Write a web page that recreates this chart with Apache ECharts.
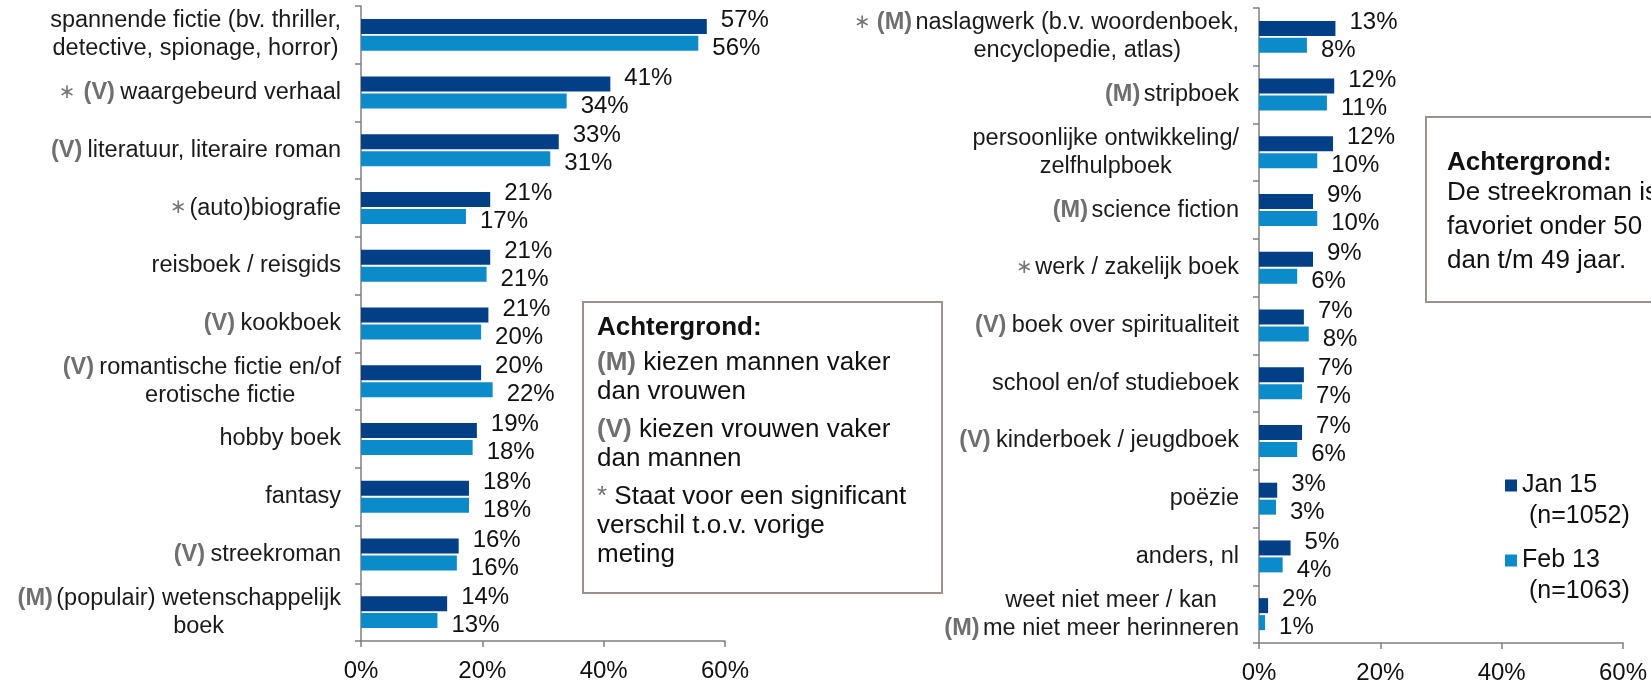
<!DOCTYPE html>
<html>
<head>
<meta charset="utf-8">
<script src="https://cdn.jsdelivr.net/npm/echarts@6/dist/echarts.min.js"></script>
<style>
  html, body { margin: 0; padding: 0; background: #fff; }
  #chart { width: 1651px; height: 685px; }
</style>
</head>
<body>
<div id="chart"></div>
<script>
// linker grafiek
var leftCats = [
  'spannende fictie (bv. thriller,\ndetective, spionage, horror)',
  'waargebeurd verhaal',
  'literatuur, literaire roman',
  '(auto)biografie',
  'reisboek / reisgids',
  'kookboek',
  'romantische fictie en/of\nerotische fictie',
  'hobby boek',
  'fantasy',
  'streekroman',
  '(populair) wetenschappelijk\nboek'
]
var leftSig = [0, 1, 0, 1, 0, 0, 0, 0, 0, 0, 0]
var leftGender = ['', 'V', 'V', '', '', 'V', 'V', '', '', 'V', 'M']
var leftJan = [57.0, 41.1, 32.6, 21.3, 21.3, 21.0, 19.8, 19.1, 17.8, 16.1, 14.2]
var leftFeb = [55.6, 33.9, 31.2, 17.3, 20.7, 19.8, 21.7, 18.4, 17.8, 15.8, 12.6]

// rechter grafiek
var rightCats = [
  'naslagwerk (b.v. woordenboek,\nencyclopedie, atlas)',
  'stripboek',
  'persoonlijke ontwikkeling/\nzelfhulpboek',
  'science fiction',
  'werk / zakelijk boek',
  'boek over spiritualiteit',
  'school en/of studieboek',
  'kinderboek / jeugdboek',
  'poëzie',
  'anders, nl',
  'weet niet meer / kan\nme niet meer herinneren'
]
var rightSig = [1, 0, 0, 0, 1, 0, 0, 0, 0, 0, 0]
var rightGender = ['M', 'M', '', 'M', '', 'V', '', 'V', '', '', 'M']
var rightJan = [12.6, 12.4, 12.2, 8.9, 8.9, 7.4, 7.4, 7.1, 3.0, 5.2, 1.5]
var rightFeb = [7.9, 11.2, 9.6, 9.6, 6.3, 8.2, 7.1, 6.3, 2.8, 3.9, 1.0]

var seriesNames = ['Jan 15', 'Feb 13']
var sampleSizes = ['(n=1052)', '(n=1063)']
var xTicks = [0, 20, 40, 60]

var DARK = '#023f86'
var LIGHT = '#0b8bc9'
var GREY = '#6f6f6f'
var FONT = '"Liberation Sans", Arial, sans-serif'

function buildLabel(name, idx, sig, gender) {
  var lines = name.split('\n')
  var markIdx = 0
  lines.forEach(function (l, i) {
    if (l.length > lines[markIdx].length) markIdx = i
  })
  return lines.map(function (l, i) {
    var pre = ''
    if (i === markIdx) {
      if (sig[idx]) pre += '{s|\u2217}'
      if (gender[idx]) pre += '{g|(' + gender[idx] + ')}'
    } else {
      if (sig[idx]) pre += '{ss| }'
      if (gender[idx]) pre += '{gs| }'
    }
    return pre + '{t|' + l + '}'
  }).join('\n')
}

var catRich = {
  t: { fontSize: 23.5, color: '#1a1a1a', lineHeight: 28, align: 'center', fontFamily: FONT },
  g: { fontSize: 23.5, fontWeight: 'bold', color: GREY, width: 42, align: 'center', lineHeight: 28, fontFamily: FONT },
  s: { fontSize: 20, color: '#777', width: 22, align: 'center', lineHeight: 28, fontFamily: 'DejaVu Sans' },
  gs: { width: 42, align: 'left', lineHeight: 28 },
  ss: { width: 22, align: 'left', lineHeight: 28 }
}

function catAxis(gridIndex, cats, sig, gender) {
  return {
    type: 'category',
    gridIndex: gridIndex,
    inverse: true,
    data: cats,
    axisLine: { lineStyle: { color: '#7f7f7f', width: 1.5 } },
    axisTick: { show: true, length: 6, lineStyle: { color: '#7f7f7f', width: 1.5 } },
    axisLabel: {
      interval: 0,
      margin: 20,
      formatter: function (value, index) {
        return buildLabel(value, index, sig, gender)
      },
      rich: catRich
    }
  }
}

function valAxis(gridIndex) {
  return {
    type: 'value',
    gridIndex: gridIndex,
    min: xTicks[0],
    max: xTicks[xTicks.length - 1],
    interval: xTicks[1] - xTicks[0],
    splitLine: { show: false },
    axisLine: { show: true, lineStyle: { color: '#7f7f7f', width: 1.5 } },
    axisTick: { show: true, length: 6, lineStyle: { color: '#7f7f7f', width: 1.5 } },
    axisLabel: {
      formatter: '{value}%',
      fontSize: 24,
      color: '#111',
      margin: 18,
      fontFamily: FONT
    }
  }
}

function barSeries(name, data, idx, color, dy) {
  return {
    name: name,
    type: 'bar',
    xAxisIndex: idx,
    yAxisIndex: idx,
    data: data,
    barWidth: 15,
    barGap: '13%',
    itemStyle: { color: color },
    label: {
      show: true,
      position: 'right',
      distance: 14,
      offset: [0, dy],
      fontSize: 24,
      color: '#111',
      fontFamily: FONT,
      formatter: function (p) {
        return Math.round(p.value) + '%'
      }
    }
  }
}

function legendFor(i, top) {
  return {
    data: [seriesNames[i]],
    orient: 'vertical',
    left: 1500,
    top: top,
    icon: 'rect',
    itemWidth: 12,
    itemHeight: 12,
    selectedMode: false,
    formatter: function (name) {
      return '{e| }\n{a|' + name + '}\n{b|' + sampleSizes[i] + '}'
    },
    textStyle: {
      fontFamily: FONT,
      rich: {
        e: { fontSize: 25, lineHeight: 31 },
        a: { fontSize: 25, lineHeight: 31, color: '#111', fontFamily: FONT },
        b: { fontSize: 25, lineHeight: 31, color: '#111', padding: [0, 0, 0, 7], fontFamily: FONT }
      }
    }
  }
}

// graphic text gebruikt zrender-stijl: fill i.p.v. color
var noteRich = {
  h: { fontSize: 26, fontWeight: 'bold', fill: '#111', fontFamily: FONT },
  g: { fontSize: 26, fontWeight: 'bold', fill: GREY, fontFamily: FONT, lineHeight: 29 },
  a: { fontSize: 26, fill: GREY, fontFamily: FONT, lineHeight: 29 },
  n: { fontSize: 26, fill: '#111', fontFamily: FONT, lineHeight: 29 },
  r: { fontSize: 26, fill: '#111', fontFamily: FONT, lineHeight: 34 }
}

function noteText(x, y, text) {
  return {
    type: 'text',
    x: x,
    y: y,
    z: 101,
    style: { text: text, rich: noteRich, verticalAlign: 'middle', align: 'left' }
  }
}

var chart = echarts.init(document.getElementById('chart'))
chart.setOption({
  animation: false,
  textStyle: { fontFamily: FONT },
  grid: [
    { left: 361, top: 6, width: 364, height: 635 },
    { left: 1259, top: 8, width: 364, height: 635 }
  ],
  xAxis: [valAxis(0), valAxis(1)],
  yAxis: [catAxis(0, leftCats, leftSig, leftGender), catAxis(1, rightCats, rightSig, rightGender)],
  legend: [legendFor(0, 437), legendFor(1, 512)],
  series: [
    barSeries(seriesNames[0], leftJan, 0, DARK, -6),
    barSeries(seriesNames[1], leftFeb, 0, LIGHT, 5),
    barSeries(seriesNames[0], rightJan, 1, DARK, -6),
    barSeries(seriesNames[1], rightFeb, 1, LIGHT, 5)
  ],
  graphic: [
    {
      type: 'rect', z: 100,
      shape: { x: 583, y: 302, width: 359, height: 291 },
      style: { fill: '#fff', stroke: '#9c918c', lineWidth: 2 }
    },
    noteText(597, 328, '{h|Achtergrond:}'),
    noteText(597, 377, '{g|(M)}{n| kiezen mannen vaker}\n{n|dan vrouwen}'),
    noteText(597, 444, '{g|(V)}{n| kiezen vrouwen vaker}\n{n|dan mannen}'),
    noteText(597, 526, '{a|*}{n| Staat voor een significant}\n{n|verschil t.o.v. vorige}\n{n|meting}'),
    {
      type: 'rect', z: 100,
      shape: { x: 1426, y: 117, width: 300, height: 185 },
      style: { fill: '#fff', stroke: '#9c918c', lineWidth: 2 }
    },
    noteText(1447, 163, '{h|Achtergrond:}'),
    noteText(1447, 227, '{r|De streekroman is}\n{r|favoriet onder 50}\n{r|dan t/m 49 jaar.}')
  ]
})
</script>
</body>
</html>
